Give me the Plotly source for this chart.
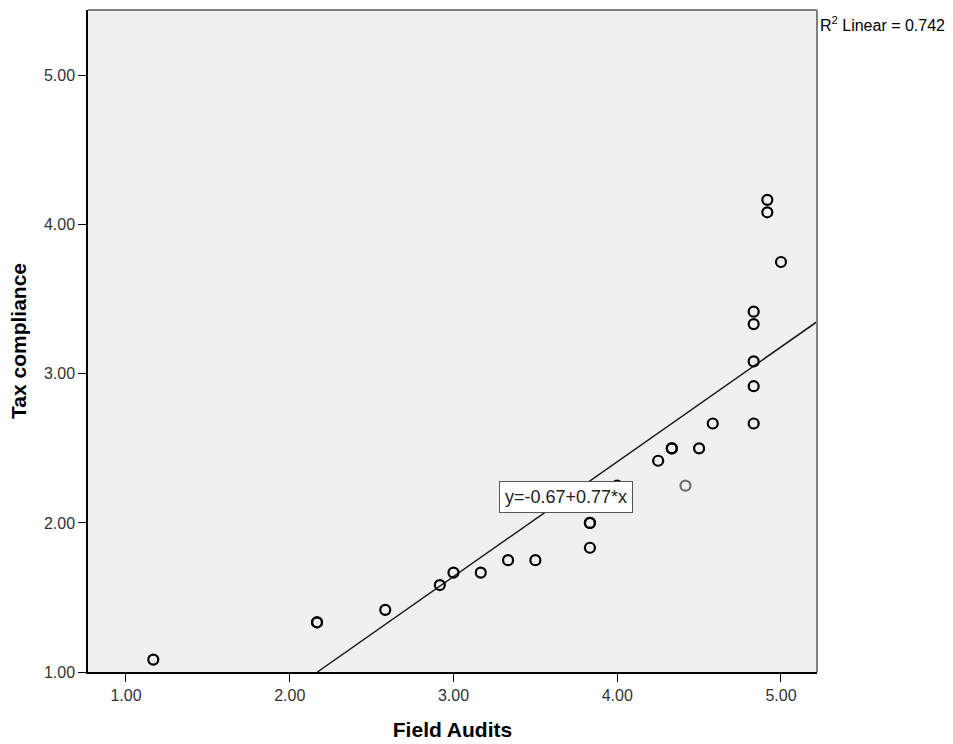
import plotly.graph_objects as go

# Data
field_audits = [1.1667, 2.1667, 2.1667, 2.5833, 2.9167, 3.0, 3.1667, 3.3333, 3.5,
                3.8333, 3.8333, 3.8333, 4.0, 4.25, 4.3333, 4.3333, 4.4167, 4.5,
                4.5833, 4.8333, 4.8333, 4.8333, 4.8333, 4.8333, 4.9167, 4.9167, 5.0]
tax_compliance = [1.0833, 1.3333, 1.3333, 1.4167, 1.5833, 1.6667, 1.6667, 1.75, 1.75,
                  1.8333, 2.0, 2.0, 2.25, 2.4167, 2.5, 2.5, 2.25, 2.5,
                  2.6667, 2.6667, 2.9167, 3.0833, 3.3333, 3.4167, 4.0833, 4.1667, 3.75]
point_colors = ["#000000"] * len(field_audits)
point_colors[16] = "#6e6e6e"

fit_intercept = -0.67
fit_slope = 0.77
r_squared = 0.742
tick_vals = [1, 2, 3, 4, 5]

x_range = [0.768, 5.22]
y_range = [1.0, 5.44]

# fit line endpoints, clipped to the y floor
x_start = max(x_range[0], (y_range[0] - fit_intercept) / fit_slope)
x_end = x_range[1]
line_x = [x_start, x_end]
line_y = [fit_intercept + fit_slope * v for v in line_x]

fig = go.Figure()
fig.add_trace(go.Scatter(
    x=line_x, y=line_y, mode="lines",
    line=dict(color="#1a1a1a", width=1.5), hoverinfo="skip", showlegend=False))
fig.add_trace(go.Scatter(
    x=field_audits, y=tax_compliance, mode="markers",
    marker=dict(symbol="circle-open", size=10, color=point_colors,
                line=dict(width=2.2)),
    showlegend=False))

font_family = "Liberation Sans, Arial, sans-serif"

fig.update_layout(
    width=953, height=744,
    paper_bgcolor="white", plot_bgcolor="#F0F0F0",
    margin=dict(l=88, r=136, t=10, b=72),
    font=dict(family=font_family, size=14, color="#222"),
    xaxis=dict(range=x_range, tickvals=tick_vals, tickformat=".2f",
               automargin=False,
               showgrid=False, zeroline=False, showline=True,
               linecolor="#000", linewidth=1.5,
               ticks="outside", ticklen=8, tickcolor="#000",
               tickfont=dict(size=16, color="#333"),
               title=dict(text="<b>Field Audits</b>", font=dict(size=21, color="#000"),
                          standoff=19)),
    yaxis=dict(range=y_range, tickvals=tick_vals, tickformat=".2f",
               automargin=False,
               showgrid=False, zeroline=False, showline=True,
               linecolor="#000", linewidth=1.5,
               ticks="outside", ticklen=8, tickcolor="#000",
               tickfont=dict(size=16, color="#333"),
               title=dict(text="<b>Tax compliance</b>", font=dict(size=21, color="#000"),
                          standoff=12)),
    shapes=[
        dict(type="line", xref="paper", yref="paper", x0=0, x1=1, y0=1, y1=1,
             line=dict(color="#7f7f7f", width=2)),
        dict(type="line", xref="paper", yref="paper", x0=1, x1=1, y0=0, y1=1,
             line=dict(color="#7f7f7f", width=2)),
    ],
    annotations=[
        dict(x=1.002, y=0.997, xref="paper", yref="paper", xanchor="left", yanchor="top",
             text=f"R<sup>2</sup> Linear = {r_squared}", showarrow=False,
             font=dict(size=16, color="#000")),
        dict(x=3.69, y=2.175, xref="x", yref="y",
             text=f"y={fit_intercept}+{fit_slope}*x", showarrow=False,
             bgcolor="white", bordercolor="#555", borderwidth=1, borderpad=5,
             font=dict(size=18, color="#222")),
    ],
)

fig.write_html("out.html")
